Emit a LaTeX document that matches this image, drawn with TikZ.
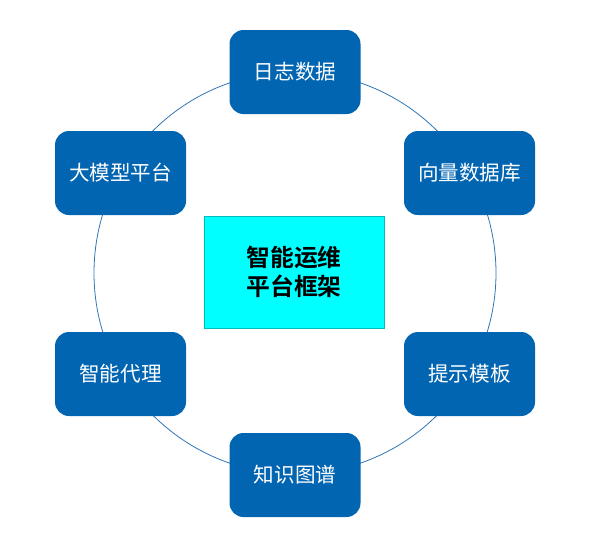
\documentclass[tikz,border=0pt]{standalone}
\usepackage{fontspec}
\newfontfamily\cjk{Noto Sans CJK SC}
\newfontfamily\cjkb{Noto Sans CJK SC Bold}
\definecolor{boxblue}{RGB}{2,101,178}
\definecolor{ringblue}{RGB}{46,117,182}
\definecolor{cyanfill}{RGB}{0,255,255}
\definecolor{cyanedge}{RGB}{0,190,190}
\begin{document}
\begin{tikzpicture}[x=1pt,y=-1pt,
  item/.style={draw=none, fill=boxblue, rounded corners=14pt, minimum width=131pt, minimum height=84pt, inner sep=0pt, text=white, font=\cjk\fontsize{20.6}{24}\selectfont},
  core/.style={draw=cyanedge, line width=0.8pt, fill=cyanfill, minimum width=180pt, minimum height=112pt, inner sep=0pt, align=center, font=\cjkb\fontsize{23.8}{29}\selectfont}]
\useasboundingbox (0,0) rectangle (602,552);
\coordinate (c) at (295,273);
\draw[ringblue, line width=0.8pt] (c) circle[radius=201];
\node[item] (n1) at (295,72) {日志数据};
\node[item] (n2) at (469.5,173) {向量数据库};
\node[item] (n3) at (469.5,374) {提示模板};
\node[item] (n4) at (295,475) {知识图谱};
\node[item] (n5) at (120.5,374) {智能代理};
\node[item] (n6) at (120.5,173) {大模型平台};
\node[core] (m) at (294,272) {智能运维\\平台框架};
\end{tikzpicture}
\end{document}
